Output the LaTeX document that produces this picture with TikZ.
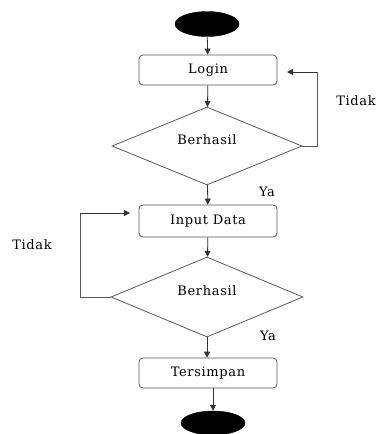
\documentclass[tikz,border=0pt]{standalone}
\usepackage{fontspec}
\setmainfont{DejaVu Serif}[LetterSpace=5]
\usetikzlibrary{shapes.geometric,arrows.meta}
\begin{document}
\begin{tikzpicture}[x=1pt,y=-1pt,
  every node/.style={font=\fontsize{13}{15}\selectfont},
  proc/.style={draw=black!65,line width=0.8pt,rounded corners=4pt,minimum width=138pt,minimum height=30pt,inner sep=0pt},
  dec/.style={draw=black!65,line width=0.8pt,diamond,aspect=2.4,minimum width=190pt,minimum height=79pt,inner sep=0pt},
  term/.style={ellipse,fill=black,draw=black,minimum width=64pt,minimum height=25pt,inner sep=0pt},
  lbl/.style={inner sep=0pt},
  arr/.style={-{Triangle[length=6pt,width=6pt]},line width=0.8pt,draw=black!80},
  ln/.style={line width=0.8pt,draw=black!65}]
\useasboundingbox (0,0) rectangle (381,434);
\node[term] (start) at (207,24) {};
\node[proc] (login) at (208,70) {Login};
\node[dec,minimum width=190pt,minimum height=78pt] (d1) at (207,146) {};
\node[lbl] (d1t) at (207,140) {Berhasil};
\node[proc,minimum height=32pt] (input) at (208,221) {Input Data};
\node[dec,minimum width=192pt,minimum height=80pt] (d2) at (207,297) {};
\node[lbl] (d2t) at (207,291) {Berhasil};
\node[proc] (simpan) at (208,373) {Tersimpan};
\node[term,minimum width=64pt,minimum height=24pt] (end) at (213,423) {};
\node[lbl] (t1) at (356,101) {Tidak};
\node[lbl] (y1) at (267,192) {Ya};
\node[lbl] (t2) at (32,245) {Tidak};
\node[lbl] (y2) at (268,336) {Ya};
\coordinate (a1) at (317,146);
\coordinate (a2) at (317,72);
\coordinate (a3) at (287,72);
\coordinate (b1) at (80,297);
\coordinate (b2) at (80,213);
\coordinate (b3) at (130,213);
\draw[arr] (start) -- (login);
\draw[arr] (login) -- (d1);
\draw[arr] (d1) -- (input);
\draw[arr] (input) -- (d2);
\draw[arr] (d2.south) -- (d2.south |- simpan.north);
\draw[arr] (simpan.south -| end.north) -- (end.north);
\draw[ln] (d1.east) -- (a1) -- (a2);
\draw[arr] (a2) -- (a3);
\draw[ln] (d2.west) -- (b1) -- (b2);
\draw[arr] (b2) -- (b3);
\end{tikzpicture}
\end{document}
